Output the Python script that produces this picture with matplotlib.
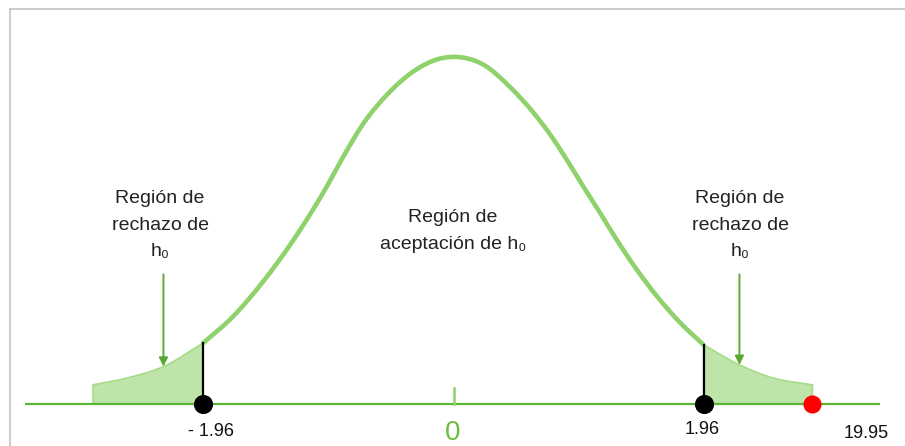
import numpy as np
import matplotlib
matplotlib.use("Agg")
import matplotlib.pyplot as plt
from matplotlib.lines import Line2D
from matplotlib.path import Path
from matplotlib.patches import PathPatch

# curve: z position and height (density units)
curve_z = [-2.82, -2.55, -2.27, -1.96, -1.73, -1.49, -1.28, -1.12, -0.99, -0.87,
           -0.71, -0.52, -0.32, -0.11, 0.00, 0.23, 0.44, 0.62, 0.75, 0.88,
           1.01, 1.14, 1.27, 1.43, 1.59, 1.77, 1.95, 2.23, 2.49, 2.80]
curve_h = [0.022, 0.030, 0.043, 0.070, 0.100, 0.141, 0.183, 0.219, 0.251, 0.283,
           0.322, 0.356, 0.382, 0.397, 0.399, 0.390, 0.364, 0.335, 0.310, 0.281,
           0.250, 0.220, 0.189, 0.154, 0.123, 0.093, 0.068, 0.045, 0.030, 0.022]

crit_values = [-1.96, 1.96]
crit_labels = ["- 1.96", "1.96"]
stat_label = "19.95"
stat_pos = 2.80          # where the statistic is drawn (end of the tail)
axis_extent = [-3.35, 3.33]
arrow_z = [-2.27, 2.23]
arrow_top = 0.149

reject_text = "Región de\nrechazo de\nh\u2080"
accept_text = "Región de\naceptación de h\u2080"

# pixel layout of the original image
W, H = 905, 446
X0, PX_X = 454, 128      # pixel of z=0, pixels per unit
Y0, PX_Y = 404, 870      # pixel row of the axis, pixels per density unit

GREEN_CURVE = "#8fd26c"
GREEN_EDGE = "#a6db88"
GREEN_FILL = "#bfe4a9"
GREEN_AXIS = "#5cb634"
GREEN_ARROW = "#5aa935"


def smooth_path(xs, ys):
    """Bezier path through the points, with tangents from neighbouring slopes."""
    xs = np.asarray(xs, float)
    ys = np.asarray(ys, float)
    n = len(xs)
    d = np.diff(ys) / np.diff(xs)
    m = np.empty(n)
    m[0], m[-1] = d[0], d[-1]
    for i in range(1, n - 1):
        a, b = xs[i] - xs[i - 1], xs[i + 1] - xs[i]
        m[i] = (d[i - 1] * b + d[i] * a) / (a + b)
    verts = [(xs[0], ys[0])]
    codes = [Path.MOVETO]
    for i in range(n - 1):
        dx = (xs[i + 1] - xs[i]) / 3
        verts += [(xs[i] + dx, ys[i] + m[i] * dx),
                  (xs[i + 1] - dx, ys[i + 1] - m[i + 1] * dx),
                  (xs[i + 1], ys[i + 1])]
        codes += [Path.CURVE4] * 3
    return verts, codes


def tail_patch(xs, ys, **kw):
    verts, codes = smooth_path(xs, ys)
    verts += [(xs[-1], 0), (xs[0], 0), (xs[0], 0)]
    codes += [Path.LINETO, Path.LINETO, Path.CLOSEPOLY]
    return PathPatch(Path(verts, codes), **kw)


fig = plt.figure(figsize=(W / 100, H / 100), dpi=100)
ax = fig.add_axes([0, 0, 1, 1])
ax.set_xlim(-X0 / PX_X, (W - X0) / PX_X)
ax.set_ylim(-(H - Y0) / PX_Y, Y0 / PX_Y)
ax.axis("off")

z = np.array(curve_z)
h = np.array(curve_h)
i_lo = int(np.argmin(np.abs(z - crit_values[0])))
i_hi = int(np.argmin(np.abs(z - crit_values[1])))

# shaded rejection tails
ax.add_patch(tail_patch(z[:i_lo + 1], h[:i_lo + 1], facecolor=GREEN_FILL,
                        edgecolor=GREEN_EDGE, lw=1.2, zorder=1))
ax.add_patch(tail_patch(z[i_hi:], h[i_hi:], facecolor=GREEN_FILL,
                        edgecolor=GREEN_EDGE, lw=1.2, zorder=1))

# horizontal axis and 0 tick
ax.plot(axis_extent, [0, 0], color=GREEN_AXIS, lw=1.6, solid_capstyle="butt", zorder=2)
ax.plot([0, 0], [0, 16 / PX_Y], color=GREEN_CURVE, lw=1.8, zorder=2)

# main body of the curve
verts, codes = smooth_path(z[i_lo:i_hi + 1], h[i_lo:i_hi + 1])
ax.add_patch(PathPatch(Path(verts, codes), fill=False, edgecolor=GREEN_CURVE,
                       lw=3.3, capstyle="round", joinstyle="round", zorder=3))

# critical value markers
for i in (i_lo, i_hi):
    ax.plot([z[i], z[i]], [0, h[i]], color="black", lw=1.6, zorder=4)
ax.scatter([z[i_lo], z[i_hi]], [0, 0], s=190, color="black", zorder=5, linewidths=0)
ax.scatter([stat_pos], [0], s=170, color="#ff0000", zorder=5, linewidths=0)

# arrows pointing to the tails
for az in arrow_z:
    tip = np.interp(az, z, h)
    ax.annotate("", xy=(az, tip), xytext=(az, arrow_top),
                arrowprops=dict(arrowstyle="-|>", color=GREEN_ARROW, lw=1.4,
                                mutation_scale=13, shrinkA=0, shrinkB=0),
                zorder=4)

txt_font = ["Liberation Sans", "DejaVu Sans"]
num_font = ["Liberation Sans Narrow", "Liberation Sans", "DejaVu Sans"]


def px(x, y):
    return x / W, 1 - y / H


for cx in (160, 740):
    fig.text(*px(cx, 225), reject_text, ha="center", va="center", fontsize=14,
             family=txt_font, color="#222222", linespacing=1.7)
fig.text(*px(453, 231), accept_text, ha="center", va="center", fontsize=14,
         family=txt_font, color="#222222", linespacing=1.7)

fig.text(*px(211, 432), crit_labels[0], ha="center", va="center", fontsize=13,
         family=num_font, color="#111111")
fig.text(*px(702, 430), crit_labels[1], ha="center", va="center", fontsize=13,
         family=num_font, color="#111111")
fig.text(*px(866, 433), stat_label, ha="center", va="center", fontsize=13,
         family=num_font, color="#111111")
fig.text(*px(453, 433), "0", ha="center", va="center", fontsize=20,
         family=num_font, color="#6abf3f")

# thin grey frame of the original screenshot
fig.add_artist(Line2D([10 / W, 10 / W], [0, 1 - 9 / H], transform=fig.transFigure,
                      color="#c4c4c4", lw=1.2))
fig.add_artist(Line2D([10 / W, 1], [1 - 9 / H, 1 - 9 / H], transform=fig.transFigure,
                      color="#c4c4c4", lw=1.2))

fig.savefig("out.png", dpi=100, facecolor="white")
